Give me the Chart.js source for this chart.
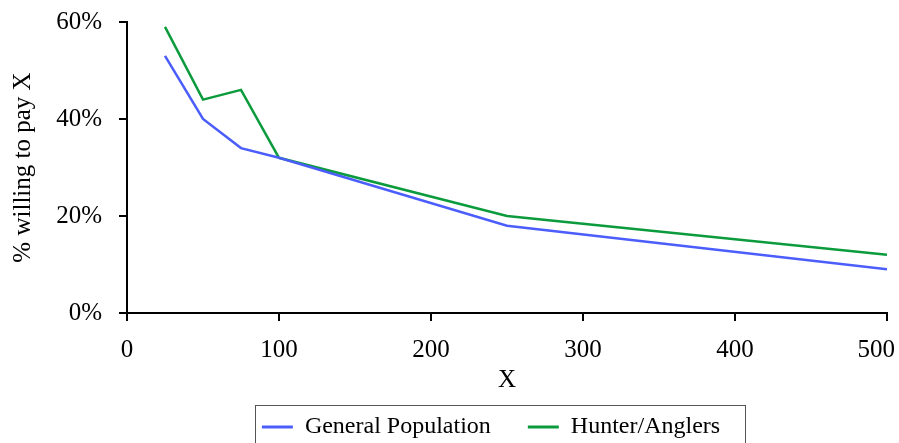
<!DOCTYPE html>
<html>
<head>
<meta charset="utf-8">
<script src="https://cdn.jsdelivr.net/npm/chart.js@4.4.1/dist/chart.umd.min.js"></script>
<style>
  html, body { margin: 0; padding: 0; background: #fff; overflow: hidden; }
  #wrap { width: 899px; height: 449px; position: relative; }
</style>
</head>
<body>
<div id="wrap"><canvas id="wtpChart"></canvas></div>
<script>
// valores
const xValues = [25, 50, 75, 100, 250, 500];
const generalPop = [0.53, 0.40, 0.34, 0.32, 0.18, 0.09];
const hunterAnglers = [0.59, 0.44, 0.46, 0.32, 0.20, 0.12];
const seriesNames = ['General Population', 'Hunter/Anglers'];
const seriesColors = ['#4b5dfb', '#0b9b3c'];

const fonte = "'Liberation Serif', 'Times New Roman', serif";

function pontos(valores) {
    return xValues.map((x, i) => ({ x: x, y: valores[i] }));
}

// ajustes finos: legenda um pouco à esquerda, último rótulo do eixo x dentro da tela
const ajustes = {
    id: 'ajustes',
    afterLayout(chart) {
        chart.legend.left -= 16;
        chart.legend.right -= 16;
    },
    beforeDraw(chart) {
        const items = chart.scales.x.getLabelItems();
        const last = items[items.length - 1];
        if (last) {
            last.options.textAlign = 'right';
            last.options.translation[0] += 8;
        }
    }
};

// caixa em volta da legenda
const caixaLegenda = {
    id: 'caixaLegenda',
    afterDraw(chart) {
        const boxes = chart.legend.legendHitBoxes;
        if (!boxes || !boxes.length) return;
        const first = boxes[0];
        const last = boxes[boxes.length - 1];
        const ctx = chart.ctx;
        ctx.save();
        ctx.strokeStyle = '#555';
        ctx.lineWidth = 1;
        const left = Math.round(first.left - 7) + 0.5;
        const right = Math.round(last.left + last.width + 25) + 0.5;
        const top = Math.round(first.top - 10) + 0.5;
        ctx.strokeRect(left, top, right - left, chart.height + 10 - top);
        ctx.restore();
    }
};

const ctx = document.getElementById('wtpChart').getContext('2d');
const chart = new Chart(ctx, {
    type: 'line',
    data: {
        datasets: [{
            label: seriesNames[0],
            data: pontos(generalPop),
            borderColor: seriesColors[0],
            backgroundColor: seriesColors[0],
            borderWidth: 2.5,
            pointRadius: 0,
            tension: 0
        }, {
            label: seriesNames[1],
            data: pontos(hunterAnglers),
            borderColor: seriesColors[1],
            backgroundColor: seriesColors[1],
            borderWidth: 2.5,
            pointRadius: 0,
            tension: 0
        }]
    },
    options: {
        responsive: true,
        maintainAspectRatio: false,
        animation: false,
        layout: { padding: { top: 22, right: 12, left: 8, bottom: 0 } },
        scales: {
            x: {
                type: 'linear',
                min: 0,
                max: 500,
                ticks: {
                    stepSize: 100,
                    color: '#000',
                    padding: 14,
                    font: { family: fonte, size: 25 }
                },
                grid: { drawOnChartArea: false, tickLength: 8, color: '#000', lineWidth: 2 },
                border: { color: '#000', width: 2 },
                title: {
                    display: true,
                    text: 'X',
                    color: '#000',
                    padding: { top: 0, bottom: -17 },
                    font: { family: fonte, size: 25 }
                },
                afterFit(scale) {
                    scale.height = 65;
                    scale.paddingRight = 0;
                    scale.paddingLeft = 0;
                }
            },
            y: {
                min: 0,
                max: 0.6,
                ticks: {
                    stepSize: 0.2,
                    color: '#000',
                    padding: 17,
                    font: { family: fonte, size: 25 },
                    callback: v => Math.round(v * 100) + '%'
                },
                grid: { drawOnChartArea: false, tickLength: 8, color: '#000', lineWidth: 2 },
                border: { color: '#000', width: 2 },
                title: {
                    display: true,
                    text: '% willing to pay X',
                    color: '#000',
                    padding: { top: 0, bottom: 0 },
                    font: { family: fonte, size: 25 }
                },
                afterFit(scale) {
                    scale.width = 119;
                    scale.paddingTop = 0;
                    scale.paddingBottom = 0;
                }
            }
        },
        plugins: {
            tooltip: { enabled: false },
            legend: {
                position: 'bottom',
                fullSize: false,
                labels: {
                    color: '#000',
                    font: { family: fonte, size: 24 },
                    boxWidth: 31,
                    boxHeight: 3,
                    padding: 37,
                    generateLabels(chart) {
                        return chart.data.datasets.map((ds, i) => ({
                            text: ds.label,
                            fillStyle: ds.borderColor,
                            strokeStyle: ds.borderColor,
                            lineWidth: 0,
                            hidden: false,
                            datasetIndex: i
                        }));
                    }
                }
            }
        }
    },
    plugins: [ajustes, caixaLegenda]
});
</script>
</body>
</html>
